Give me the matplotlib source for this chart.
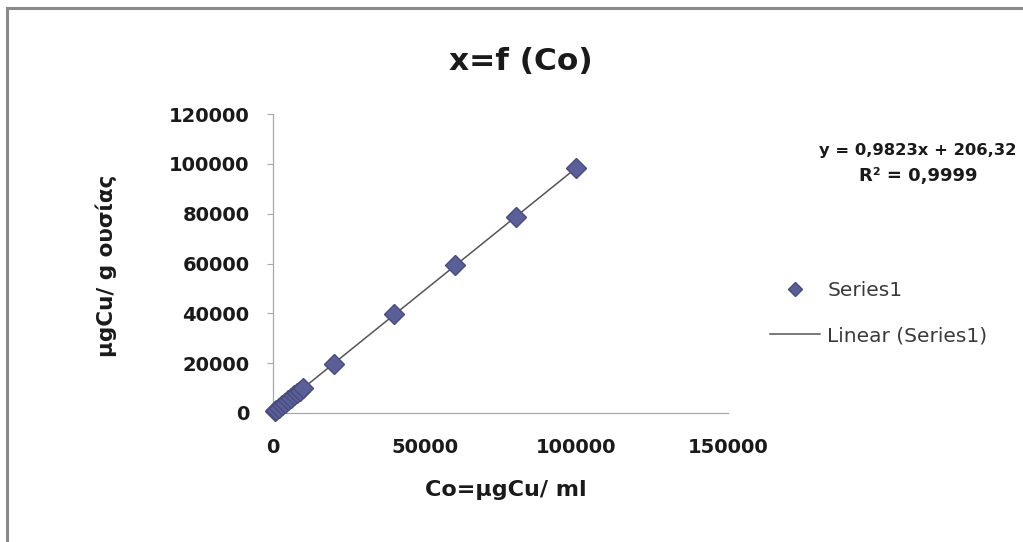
import matplotlib
matplotlib.use('Agg')
import matplotlib.pyplot as plt
from matplotlib.lines import Line2D
from matplotlib.patches import Rectangle
import numpy as np

# data
conc=[500,1000,2000,3000,4000,5000,6000,7000,8000,9000,10000,20000,40000,60000,80000,100000]
found=[700,1200,2200,3100,4100,5100,6100,7100,8000,9000,10000,19800,39600,59300,78700,98300]
xticks=[0,50000,100000,150000]
yticks=[0,20000,40000,60000,80000,100000,120000]
title='x=f (Co)'
xlabel='Co=μgCu/ ml'
ylabel='μgCu/ g ουσίας'
eq_text='y = 0,9823x + 206,32'
r2_text='R² = 0,9999'

plt.rcParams.update({'font.family':['DejaVu Sans']})
W,H=1023,542
fig=plt.figure(figsize=(W/100,H/100),dpi=100)
fig.patch.set_facecolor('white')
# chart frame (only top/left visible in the crop)
fig.add_artist(Rectangle((7/W,-0.02),1.1,1-8/H+0.02,transform=fig.transFigure,fill=False,ec='#8a8a8a',lw=2.2))

ax=fig.add_axes([273/W,1-413/H,(728-273)/W,(413-114)/H])
ax.set_xlim(0,150000); ax.set_ylim(0,120000)
ax.set_xticks(xticks); ax.set_yticks(yticks)
ax.set_xticklabels([str(v) for v in xticks]); ax.set_yticklabels([str(v) for v in yticks])
for s in ['top','right']: ax.spines[s].set_visible(False)
for s in ['left','bottom']: ax.spines[s].set_color('#a8a8a8'); ax.spines[s].set_linewidth(0.9)
ax.tick_params(axis='y',direction='out',length=4,color='#a8a8a8',labelsize=14,pad=13)
ax.tick_params(axis='x',direction='out',length=0,labelsize=14,pad=18)
for lab in ax.get_xticklabels()+ax.get_yticklabels(): lab.set_fontweight('bold'); lab.set_color('#1a1a1a')

k,b=np.polyfit(conc,found,1)
xx=np.array([0,max(conc)])
ax.plot(xx,k*xx+b,color='#555555',lw=1.1,zorder=2)
ax.plot(conc,found,ls='none',marker='D',ms=10.5,mfc='#5a5f98',mec='#474b80',mew=1,zorder=3,clip_on=False)

fig.text(521/W,1-62/H,title,ha='center',va='center',fontsize=22.5,fontweight='bold',color='#1a1a1a')
fig.text(506/W,1-490/H,xlabel,ha='center',va='center',fontsize=16,fontweight='bold',color='#1a1a1a')
fig.text(106/W,1-266/H,ylabel,ha='center',va='center',rotation=90,fontsize=15.5,fontweight='bold',color='#1a1a1a')
fig.text(918/W,1-151/H,eq_text,ha='center',va='center',fontsize=11.8,fontweight='bold',color='#1a1a1a')
fig.text(918/W,1-176/H,r2_text,ha='center',va='center',fontsize=13,fontweight='bold',color='#1a1a1a')

handles=[Line2D([],[],ls='none',marker='D',ms=7.5,mfc='#5a5f98',mec='#474b80'),
         Line2D([],[],color='#555555',lw=1.1)]
leg=fig.legend(handles,['Series1','Linear (Series1)'],loc='upper left',bbox_to_anchor=(770/W,1-281/H),
               frameon=False,handlelength=2.5,handletextpad=0.35,labelspacing=1.3,
               borderpad=0,borderaxespad=0,prop={'size':14.5})
for t in leg.get_texts(): t.set_color('#3a3a3a')

fig.savefig('out.png',dpi=100)
